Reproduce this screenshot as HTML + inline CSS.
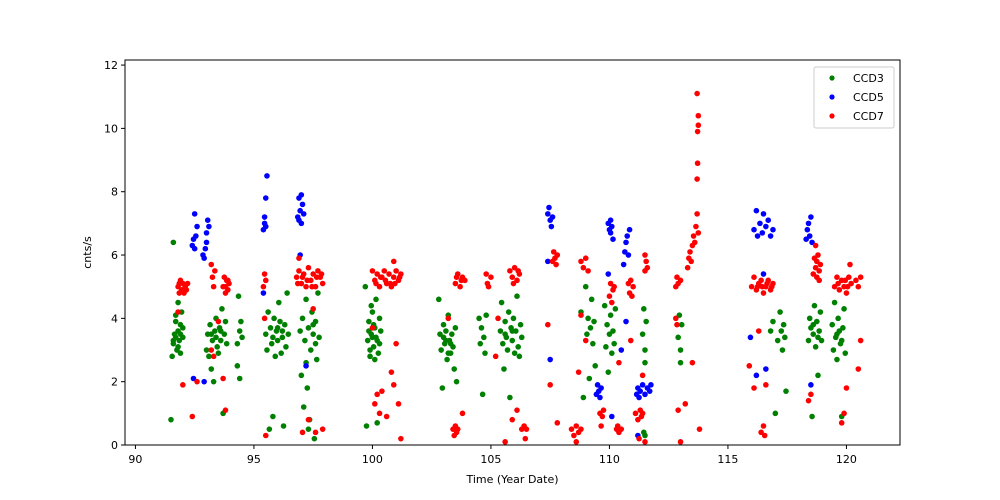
<!DOCTYPE html>
<html><head><meta charset="utf-8"><style>
body{margin:0;background:#fff;}
svg{display:block;font-family:"DejaVu Sans","Liberation Sans",sans-serif;}
</style></head><body>
<svg id="chart" width="1000" height="500">
<rect x="0" y="0" width="1000" height="500" fill="#fff"/>
<g id="marks"></g>
<g id="axes"></g>
</svg>
<script>
const xTicks=[90,95,100,105,110,115,120];
const yTicks=[0,2,4,6,8,10,12];
const seriesNames=["CCD3","CCD5","CCD7"];
const ccd3=[[91.5,0.8],[91.6,6.4],[91.6,3.2],[91.65,3.5],[91.7,3.9],[91.7,4.1],[91.75,3.0],[91.8,3.6],[91.8,4.5],[91.85,3.3],[91.9,3.8],[91.9,2.9],[91.95,4.2],[92.0,3.4],[92.0,3.7],[91.55,2.8],[91.6,3.3],[91.7,3.4],[91.8,3.1],[91.9,3.5],
[93.0,3.0],[93.05,3.5],[93.1,2.8],[93.15,3.8],[93.2,2.4],[93.25,3.3],[93.3,2.0],[93.35,3.6],[93.4,4.0],[93.45,3.1],[93.5,2.9],[93.55,3.7],[93.6,3.3],[93.65,4.3],[93.7,1.0],[93.75,3.5],[93.8,3.9],[93.85,3.2],[93.2,3.5],[93.4,3.4],[93.6,3.6],
[94.3,3.2],[94.35,4.7],[94.4,3.6],[94.4,2.1],[94.45,3.9],[94.5,3.4],[94.3,2.5],
[95.5,3.5],[95.55,3.0],[95.6,4.2],[95.65,0.5],[95.7,3.7],[95.75,3.2],[95.8,0.9],[95.85,4.0],[95.9,2.8],[95.95,3.6],[96.0,3.3],[96.05,4.5],[96.1,3.9],[96.15,2.9],[96.2,3.4],[96.25,0.6],[96.3,3.8],[96.35,3.1],[96.4,4.8],[96.45,3.5],[95.8,3.4],[96.0,3.7],[96.2,3.6],
[96.95,3.6],[97.0,2.2],[97.05,4.0],[97.1,1.2],[97.15,3.3],[97.2,4.6],[97.25,1.8],[97.3,3.7],[97.35,0.8],[97.4,3.0],[97.45,4.2],[97.5,3.5],[97.55,0.2],[97.6,3.9],[97.65,2.7],[97.7,4.8],[97.75,3.4],[97.2,2.6],[97.3,0.5],[97.5,3.8],[97.6,3.2],
[99.7,5.0],[99.75,0.6],[99.8,3.3],[99.85,3.9],[99.9,2.8],[99.95,3.5],[100.0,4.2],[100.05,3.1],[100.1,3.7],[100.15,4.6],[100.2,3.3],[100.25,2.9],[100.3,4.0],[100.35,3.6],[99.9,3.0],[100.0,3.4],[100.1,2.7],[100.2,0.7],[99.95,4.4],[100.3,3.2],[99.85,3.6],[100.05,3.8],[100.15,3.4],
[102.8,4.6],[102.85,3.5],[102.9,3.0],[102.95,1.8],[103.0,3.8],[103.05,3.2],[103.1,3.6],[103.15,2.7],[103.2,4.1],[103.25,3.3],[103.3,2.9],[103.35,3.5],[103.4,3.1],[103.45,2.4],[103.5,3.7],[103.55,2.0],[103.0,3.4],[103.2,2.9],[103.1,3.3],[103.3,3.2],
[104.5,4.0],[104.55,3.2],[104.6,3.7],[104.65,1.6],[104.7,3.4],[104.75,2.9],[104.8,4.1],
[105.4,3.6],[105.45,4.5],[105.5,3.2],[105.55,2.4],[105.6,3.9],[105.65,3.4],[105.7,3.0],[105.75,4.2],[105.8,1.5],[105.85,3.7],[105.9,3.3],[105.95,4.0],[106.0,2.9],[106.05,3.6],[106.1,4.7],[106.15,3.1],[106.2,2.8],[106.25,3.8],[106.3,3.4],[105.6,3.5],[105.9,3.6],
[108.8,4.2],[108.9,1.5],[109.0,5.0],[109.05,3.5],[109.1,4.0],[109.15,2.1],[109.2,3.7],[109.25,4.6],[109.3,3.2],[109.35,3.9],[109.4,2.5],
[109.8,4.4],[109.85,3.1],[109.9,3.8],[109.95,2.3],[110.0,3.5],[110.05,4.1],[110.1,2.9],[110.15,3.6],[110.2,3.2],[110.25,4.3],
[111.4,3.5],[111.45,4.3],[111.5,3.0],[111.45,0.4],[111.5,2.6],[111.55,3.9],[111.5,0.3],
[112.9,3.4],[112.95,4.1],[113.0,2.6],[113.0,3.0],[113.05,3.8],
[116.8,3.6],[116.9,3.9],[117.0,1.0],[117.1,3.3],[117.2,4.2],[117.25,3.6],[117.3,3.0],[117.35,3.8],[117.4,3.4],[117.45,1.7],
[118.4,3.3],[118.45,4.0],[118.5,3.7],[118.55,0.9],[118.6,3.5],[118.65,4.4],[118.7,3.1],[118.75,3.9],[118.8,2.2],[118.85,3.6],[118.9,4.2],[118.95,3.3],[118.6,3.8],[118.8,3.4],
[119.4,3.8],[119.45,3.0],[119.5,4.5],[119.55,3.4],[119.6,2.7],[119.65,4.0],[119.7,3.6],[119.75,3.2],[119.8,0.9],[119.85,3.7],[119.9,4.3],[119.95,2.9],[119.6,3.5],[119.8,3.3]];
const ccd5=[[92.4,6.3],[92.45,6.5],[92.5,7.3],[92.55,6.6],[92.6,6.9],[92.5,6.2],[92.45,2.1],[92.9,5.9],[92.95,6.2],[93.0,6.7],[93.05,7.1],[93.0,6.4],[92.9,2.0],[93.1,6.9],[92.85,6.0],
[95.4,6.8],[95.45,7.2],[95.5,7.8],[95.55,8.5],[95.45,7.0],[95.5,6.9],[95.4,4.8],
[96.85,7.2],[96.9,7.8],[96.95,7.4],[97.0,7.0],[97.05,7.6],[97.1,7.3],[96.9,7.1],[97.0,7.9],[96.95,6.0],[97.2,2.5],
[107.4,7.3],[107.45,7.5],[107.5,7.1],[107.55,6.9],[107.6,7.2],[107.5,2.7],[107.4,5.8],
[109.45,1.6],[109.5,1.9],[109.55,1.7],[109.6,1.5],[109.65,1.8],
[109.95,7.0],[110.0,6.8],[110.05,6.7],[110.1,6.9],[110.15,6.5],[110.05,7.1],[109.95,5.4],[110.1,0.9],
[110.6,5.7],[110.65,6.1],[110.7,6.4],[110.75,6.6],[110.8,6.0],[110.85,6.8],[110.7,3.9],[110.5,3.0],
[111.15,1.6],[111.2,1.8],[111.3,1.7],[111.4,1.9],[111.5,1.6],[111.6,1.8],[111.7,1.7],[111.75,1.9],[111.25,1.5],[111.2,0.3],
[115.95,3.4],[116.1,6.8],[116.2,7.4],[116.25,6.6],[116.35,7.0],[116.45,6.7],[116.5,7.3],[116.6,6.9],[116.7,7.1],[116.8,6.6],[116.9,6.8],[116.2,2.2],[116.6,2.4],[116.5,5.4],
[118.3,6.5],[118.35,6.8],[118.4,7.0],[118.45,6.6],[118.5,7.2],[118.55,6.4],[118.5,1.9]];
const ccd7=[[91.8,5.0],[91.85,4.8],[91.9,5.2],[91.95,4.9],[92.0,5.1],[92.05,4.8],[92.1,5.0],[91.8,4.2],[92.0,1.9],[92.2,5.1],[91.85,5.1],[92.15,4.9],
[92.4,0.9],[92.6,2.0],[93.2,5.7],[93.25,5.3],[93.3,5.0],[93.35,5.5],[93.2,3.0],[93.3,2.8],[93.5,3.9],[93.7,5.0],[93.75,5.3],[93.8,4.8],[93.85,5.2],[93.9,4.9],[93.95,5.1],[93.8,1.1],[93.7,2.1],[93.8,5.0],[93.9,5.2],
[95.4,5.0],[95.45,5.4],[95.5,5.2],[95.45,4.0],[95.5,0.3],
[96.8,5.3],[96.9,5.5],[97.0,5.1],[97.1,5.4],[97.2,5.0],[97.3,5.6],[97.4,5.2],[97.5,5.4],[97.6,5.0],[97.7,5.5],[97.8,5.3],[97.9,5.1],[96.9,5.9],[97.05,0.4],[97.3,0.8],[97.6,0.4],[97.9,0.5],[97.5,4.3],[96.85,5.1],[97.05,5.3],[97.25,5.2],[97.45,5.0],[97.65,5.3],[97.85,5.4],
[100.0,5.5],[100.1,5.2],[100.2,5.4],[100.3,5.0],[100.4,5.3],[100.5,5.5],[100.6,5.1],[100.7,5.4],[100.8,5.0],[100.9,5.3],[101.0,5.5],[101.1,5.2],[101.2,5.4],[100.9,5.8],[100.0,3.7],[100.1,1.3],[100.3,1.0],[100.4,1.7],[100.6,0.9],[100.8,2.3],[100.9,1.9],[101.0,3.2],[101.1,1.3],[101.2,0.2],[100.2,1.6],[100.15,5.1],[100.35,5.3],[100.55,5.2],[100.75,5.1],[100.95,5.1],[101.15,5.3],
[103.2,4.0],[103.4,0.5],[103.45,0.3],[103.5,0.6],[103.55,0.4],[103.6,0.5],[103.5,5.1],[103.6,5.4],[103.7,5.0],[103.8,5.3],[103.9,5.2],[103.8,1.0],[103.55,5.3],[103.75,5.2],
[104.8,5.4],[104.85,5.1],[104.9,5.0],[105.0,5.3],[105.2,2.8],[105.3,4.0],
[105.8,5.5],[105.9,5.3],[106.0,5.6],[106.1,5.2],[106.2,5.4],[105.6,0.1],[105.9,0.8],[106.1,1.1],[106.3,0.5],[106.4,0.6],[106.5,0.5],[106.45,0.2],[105.95,5.1],[106.15,5.5],
[107.4,3.8],[107.5,1.9],[107.6,5.8],[107.65,6.1],[107.7,5.9],[107.75,5.7],[107.8,6.0],[107.8,0.7],
[108.4,0.5],[108.5,0.3],[108.6,0.6],[108.7,0.4],[108.8,0.5],[108.6,0.1],[108.7,2.3],[108.8,5.8],[108.9,5.6],[109.0,5.9],[109.1,5.5],[108.8,4.1],[109.0,3.3],
[109.6,1.0],[109.7,0.9],[109.75,1.1],[109.65,0.6],[110.0,4.7],[110.05,5.1],[110.1,4.5],[110.15,4.9],[110.2,5.0],[110.3,0.5],[110.35,0.6],[110.4,0.4],[110.5,0.5],[110.4,2.6],
[110.8,5.1],[110.85,4.8],[110.9,5.2],[110.95,4.7],[111.0,5.0],[110.9,3.3],[111.1,1.0],[111.2,0.8],[111.3,1.1],[111.35,0.9],[111.4,1.0],[111.25,0.2],[111.5,0.1],[111.4,2.2],[111.5,5.5],[111.55,5.8],[111.5,6.0],[111.6,5.6],
[112.8,5.0],[112.85,5.3],[112.9,5.1],[113.0,5.2],[112.8,4.0],[112.85,3.8],[112.9,1.1],[113.0,0.1],[113.2,1.3],
[113.3,5.6],[113.35,5.9],[113.4,6.1],[113.45,5.8],[113.5,6.3],[113.55,6.6],[113.6,6.4],[113.65,6.9],[113.7,7.3],[113.7,8.4],[113.72,8.9],[113.72,9.9],[113.75,10.1],[113.75,10.4],[113.7,11.1],[113.75,6.7],[113.5,2.6],[113.8,0.5],
[115.9,2.5],[116.0,5.0],[116.1,5.3],[116.2,4.9],[116.3,5.1],[116.4,5.2],[116.5,4.8],[116.6,5.0],[116.7,5.2],[116.8,4.9],[116.9,5.1],[116.4,0.4],[116.5,0.6],[116.55,0.3],[116.3,3.6],[116.1,1.8],[116.6,1.9],[116.25,5.0],[116.45,5.0],[116.65,5.1],[116.85,5.0],
[118.4,1.4],[118.5,1.6],[118.6,5.4],[118.65,5.9],[118.7,5.6],[118.75,5.3],[118.8,6.0],[118.85,5.5],[118.9,5.7],[118.7,6.3],[118.75,5.8],[118.85,5.2],
[119.5,5.0],[119.6,5.3],[119.7,4.9],[119.8,5.2],[119.9,5.0],[120.0,4.8],[120.1,5.3],[120.2,5.1],[120.15,5.7],[120.4,5.2],[120.5,5.0],[120.6,5.3],[119.9,1.0],[120.0,1.8],[120.5,2.4],[120.6,3.3],[119.8,0.7],[119.65,5.1],[119.95,5.2],[120.05,5.0]];

const NS='http://www.w3.org/2000/svg';
const L=125,R=900,T=60,B=445;
const x0=89.56,x1=122.26,y0=0,y1=12.16;
function sx(v){return L+(v-x0)/(x1-x0)*(R-L);}
function sy(v){return B-(v-y0)/(y1-y0)*(B-T);}
function mk(tag,attrs,parent){const e=document.createElementNS(NS,tag);for(const k in attrs)e.setAttribute(k,attrs[k]);parent.appendChild(e);return e;}
const marks=document.getElementById('marks'),axes=document.getElementById('axes');
const colors=['#008000','#0000ff','#ff0000'];
[ccd3,ccd5,ccd7].forEach((s,i)=>{
  const g=mk('g',{},marks);
  
  
  s.forEach(p=>{
    const c=mk('circle',{cx:sx(p[0]),cy:sy(p[1]),r:2.8,fill:colors[i]},g);
    
    
  });
});
const frame=mk('rect',{x:L,y:T,width:R-L,height:B-T,fill:'none',stroke:'#000','stroke-width':1},axes);


xTicks.forEach(t=>{
  const x=sx(t);
  mk('line',{x1:x,x2:x,y1:B,y2:B+4,stroke:'#000'},axes);
  const tx=mk('text',{x:x,y:B+18,'text-anchor':'middle','font-size':11},axes);
  tx.textContent=t;
  
  
});
yTicks.forEach(t=>{
  const y=sy(t);
  mk('line',{x1:L-4,x2:L,y1:y,y2:y,stroke:'#000'},axes);
  const tx=mk('text',{x:L-7,y:y+4,'text-anchor':'end','font-size':11},axes);
  tx.textContent=t;
  
  
});
const xt=mk('text',{x:(L+R)/2,y:483,'text-anchor':'middle','font-size':11},axes);
xt.textContent='Time (Year Date)';


const yt=mk('text',{x:0,y:0,'text-anchor':'middle','font-size':11,transform:'translate(91,'+((T+B)/2)+') rotate(-90)'},axes);
yt.textContent='cnts/s';


const lg=mk('g',{},axes);


mk('rect',{x:814,y:67,width:80,height:61,rx:2,fill:'#fff','fill-opacity':0.8,stroke:'#ccc'},lg);
seriesNames.forEach((n,i)=>{
  const e=mk('g',{},lg);
  
  
  mk('circle',{cx:832,cy:78+i*19,r:2.6,fill:colors[i]},e);
  const t=mk('text',{x:853,y:82+i*19,'font-size':11},e);
  t.textContent=n;
});
</script>
</body></html>
